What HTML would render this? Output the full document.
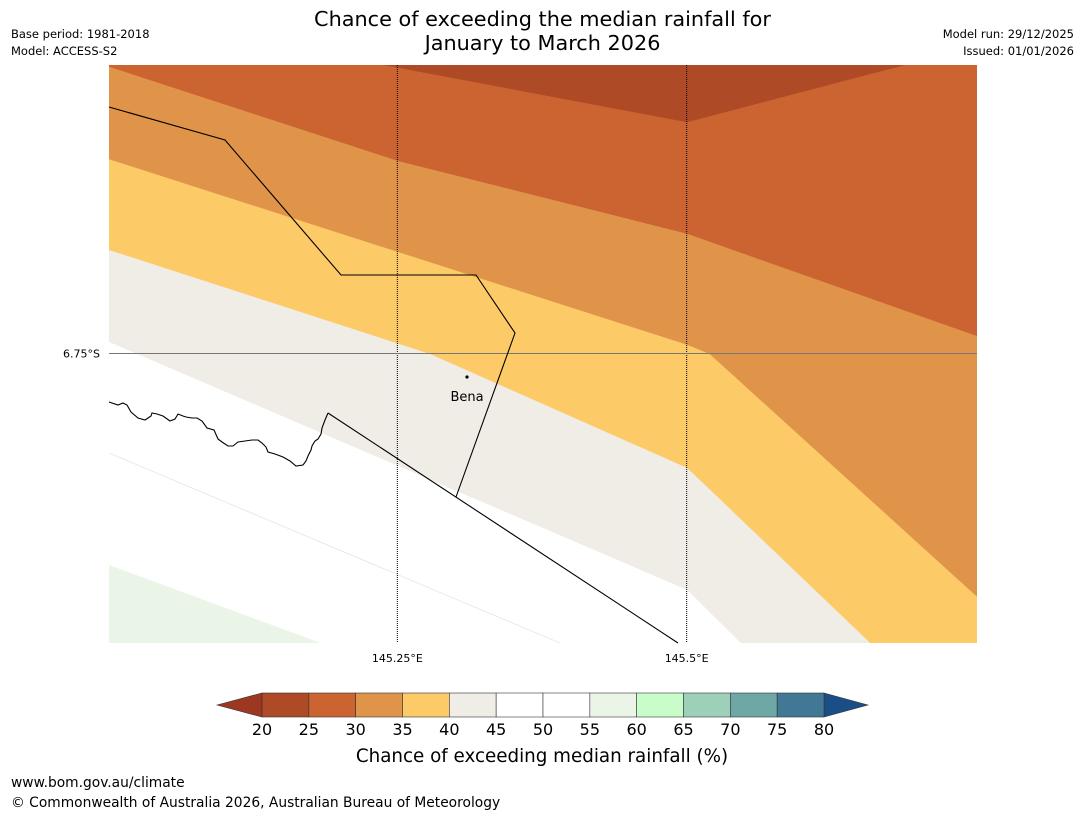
<!DOCTYPE html>
<html><head><meta charset="utf-8"><style>
body{margin:0;background:#fff;font-family:"DejaVu Sans",sans-serif;}
#wrap{position:relative;width:1085px;height:816px;overflow:hidden;}
.t{position:absolute;white-space:nowrap;color:#000;}
</style></head><body>
<div id="wrap">
<div class="t" style="left:0;width:1085px;top:7px;text-align:center;font-size:20.8px;line-height:24px;">Chance of exceeding the median rainfall for<br>January to March 2026</div>
<div class="t" style="left:11px;top:27px;font-size:11.5px;">Base period: 1981-2018</div>
<div class="t" style="left:11px;top:44px;font-size:11.5px;">Model: ACCESS-S2</div>
<div class="t" style="right:11px;top:27px;font-size:11.5px;">Model run: 29/12/2025</div>
<div class="t" style="right:11px;top:44px;font-size:11.5px;">Issued: 01/01/2026</div>
<svg id="svg" width="1085" height="816" style="position:absolute;left:0;top:0"></svg>
<div class="t" style="left:11px;top:775px;font-size:13.8px;">www.bom.gov.au/climate</div>
<div class="t" style="left:11px;top:795px;font-size:13.8px;">© Commonwealth of Australia 2026, Australian Bureau of Meteorology</div>
</div>
<script>
const NS="http://www.w3.org/2000/svg";
const svg=document.getElementById('svg');
const cbTicks=[20,25,30,35,40,45,50,55,60,65,70,75,80];
const cbColors=["#ae4a26","#cb6431","#e0944a","#fdca68","#f0ece6","#ffffff","#ffffff","#eaf5e8","#c8fcc8","#9dd0b8","#6fa6a6","#417896"];
const lonTicks=[145.25,145.5];
const latTicks=[-6.75];
const lonMin=145.0, lonMax=145.75, latMin=-7.0, latMax=-6.5;
const X0=109,X1=977,Y0=65,Y1=643;
function sx(lon){return X0+(lon-lonMin)/(lonMax-lonMin)*(X1-X0);}
function sy(lat){return Y0+(latMax-lat)/(latMax-latMin)*(Y1-Y0);}
function el(tag,attrs,name){const e=document.createElementNS(NS,tag);for(const k in attrs)e.setAttribute(k,attrs[k]);


svg.appendChild(e);return e;}
const bands=[
 {c:"#f0ece6",pts:[[0,0.479],[0.666,0.908],[0.728,1]],name:"band-40-45"},
 {c:"#fdca68",pts:[[0,0.320],[0.370,0.500],[0.666,0.697],[0.687,0.727],[0.877,1]],name:"band-35-40"},
 {c:"#e0944a",pts:[[0,0.163],[0.666,0.484],[0.692,0.500],[1,0.920]],name:"band-30-35"},
 {c:"#cb6431",pts:[[0,0.003],[0.333,0.166],[0.666,0.292],[1,0.469]],name:"band-25-30"}
];
const W=X1-X0,H=Y1-Y0;
el('rect',{x:X0,y:Y0,width:W,height:H,fill:"#fff"},"map-background");
el('polygon',{points:[[X0,Y0+0.865*H],[X0+0.244*W,Y1],[X0,Y1]].map(q=>q.join(',')).join(' '),fill:"#eaf5e8"},"band-55-60");
el('line',{x1:X0,y1:453,x2:560,y2:643,stroke:"#ddd","stroke-width":0.6},"contour-50");
bands.forEach(b=>{
 let p=b.pts.map(q=>[X0+q[0]*W,Y0+q[1]*H]);
 let last=p[p.length-1];
 let poly=[[X0,Y0]].concat(p);
 if(last[0]<X1-0.5){poly.push([X1,Y1]);}
 poly.push([X1,Y0]);
 el('polygon',{points:poly.map(q=>q.join(',')).join(' '),fill:b.c},b.name);
});
el('polygon',{points:[[X0+0.316*W,Y0],[X0+0.917*W,Y0],[X0+0.666*W,Y0+0.099*H]].map(q=>q.join(',')).join(' '),fill:"#ae4a26"},"band-20-25");
lonTicks.forEach(l=>{const x=sx(l)-1;el('line',{x1:x,y1:Y0,x2:x,y2:Y1,stroke:"#000","stroke-width":1,"stroke-dasharray":"1,1"},"lon-gridline");
 const t=el('text',{x:x,y:662,"font-size":11,"text-anchor":"middle","font-family":"DejaVu Sans, sans-serif"},"lon-tick-label");t.textContent=l+"°E";});
latTicks.forEach(l=>{const y=sy(l)-0.5;el('line',{x1:X0,y1:y,x2:X1,y2:y,stroke:"#777","stroke-width":1},"lat-gridline");
 const t=el('text',{x:100,y:y+4,"font-size":11,"text-anchor":"end","font-family":"DejaVu Sans, sans-serif"},"lat-tick-label");t.textContent=Math.abs(l)+"°S";});
el('polyline',{points:"109,107 225,140 341,275 476,275 515,333 456,497",fill:"none",stroke:"#000","stroke-width":1.1},"province-border");
el('polyline',{points:"328,413 678,643",fill:"none",stroke:"#000","stroke-width":1.1},"province-border-south");
el('polyline',{points:"109,402 118,405 123,403 127,405 131,412 138,418 145,420 151,416 152,413 157,414 163,416 170,421 175,419 178,414 183,416 186,417 192,418 197,418 202,421 207,428 214,430 218,439 222,442 228,446 233,446 238,442 245,441 252,440 258,440 262,443 266,447 268,452 275,454 283,457 290,461 296,466 303,465 306,461 308,456 311,450 312,446 315,441 318,439 321,434 322,428 325,420 328,413",fill:"none",stroke:"#000","stroke-width":1.1},"coastline");
el('circle',{cx:467,cy:377,r:1.6,fill:"#000"},"bena-marker");
const bt=el('text',{x:467,y:401,"font-size":13,"text-anchor":"middle","font-family":"DejaVu Sans, sans-serif"},"bena-label");bt.textContent="Bena";
const cbX0=262,cbX1=824,cbY=693,cbH=24;
function cx(v){return cbX0+(v-cbTicks[0])/(cbTicks[cbTicks.length-1]-cbTicks[0])*(cbX1-cbX0);}
el('polygon',{points:`217,705 ${cbX0},${cbY} ${cbX0},${cbY+cbH}`,fill:"#9c3822",stroke:"#333","stroke-width":0.6},"colorbar-low-arrow");
el('polygon',{points:`868,705 ${cbX1},${cbY} ${cbX1},${cbY+cbH}`,fill:"#1a4e86",stroke:"#333","stroke-width":0.6},"colorbar-high-arrow");
cbColors.forEach((c,i)=>{el('rect',{x:cx(cbTicks[i]),y:cbY,width:cx(cbTicks[i+1])-cx(cbTicks[i]),height:cbH,fill:c,stroke:"#333","stroke-width":0.6},"colorbar-segment");});
cbTicks.forEach(v=>{const t=el('text',{x:cx(v),y:735,"font-size":16,"text-anchor":"middle","font-family":"DejaVu Sans, sans-serif"},"colorbar-tick-label");t.textContent=v;});
const ct=el('text',{x:542,y:762,"font-size":18.3,"text-anchor":"middle","font-family":"DejaVu Sans, sans-serif"},"colorbar-title");ct.textContent="Chance of exceeding median rainfall (%)";
</script>
</body></html>
